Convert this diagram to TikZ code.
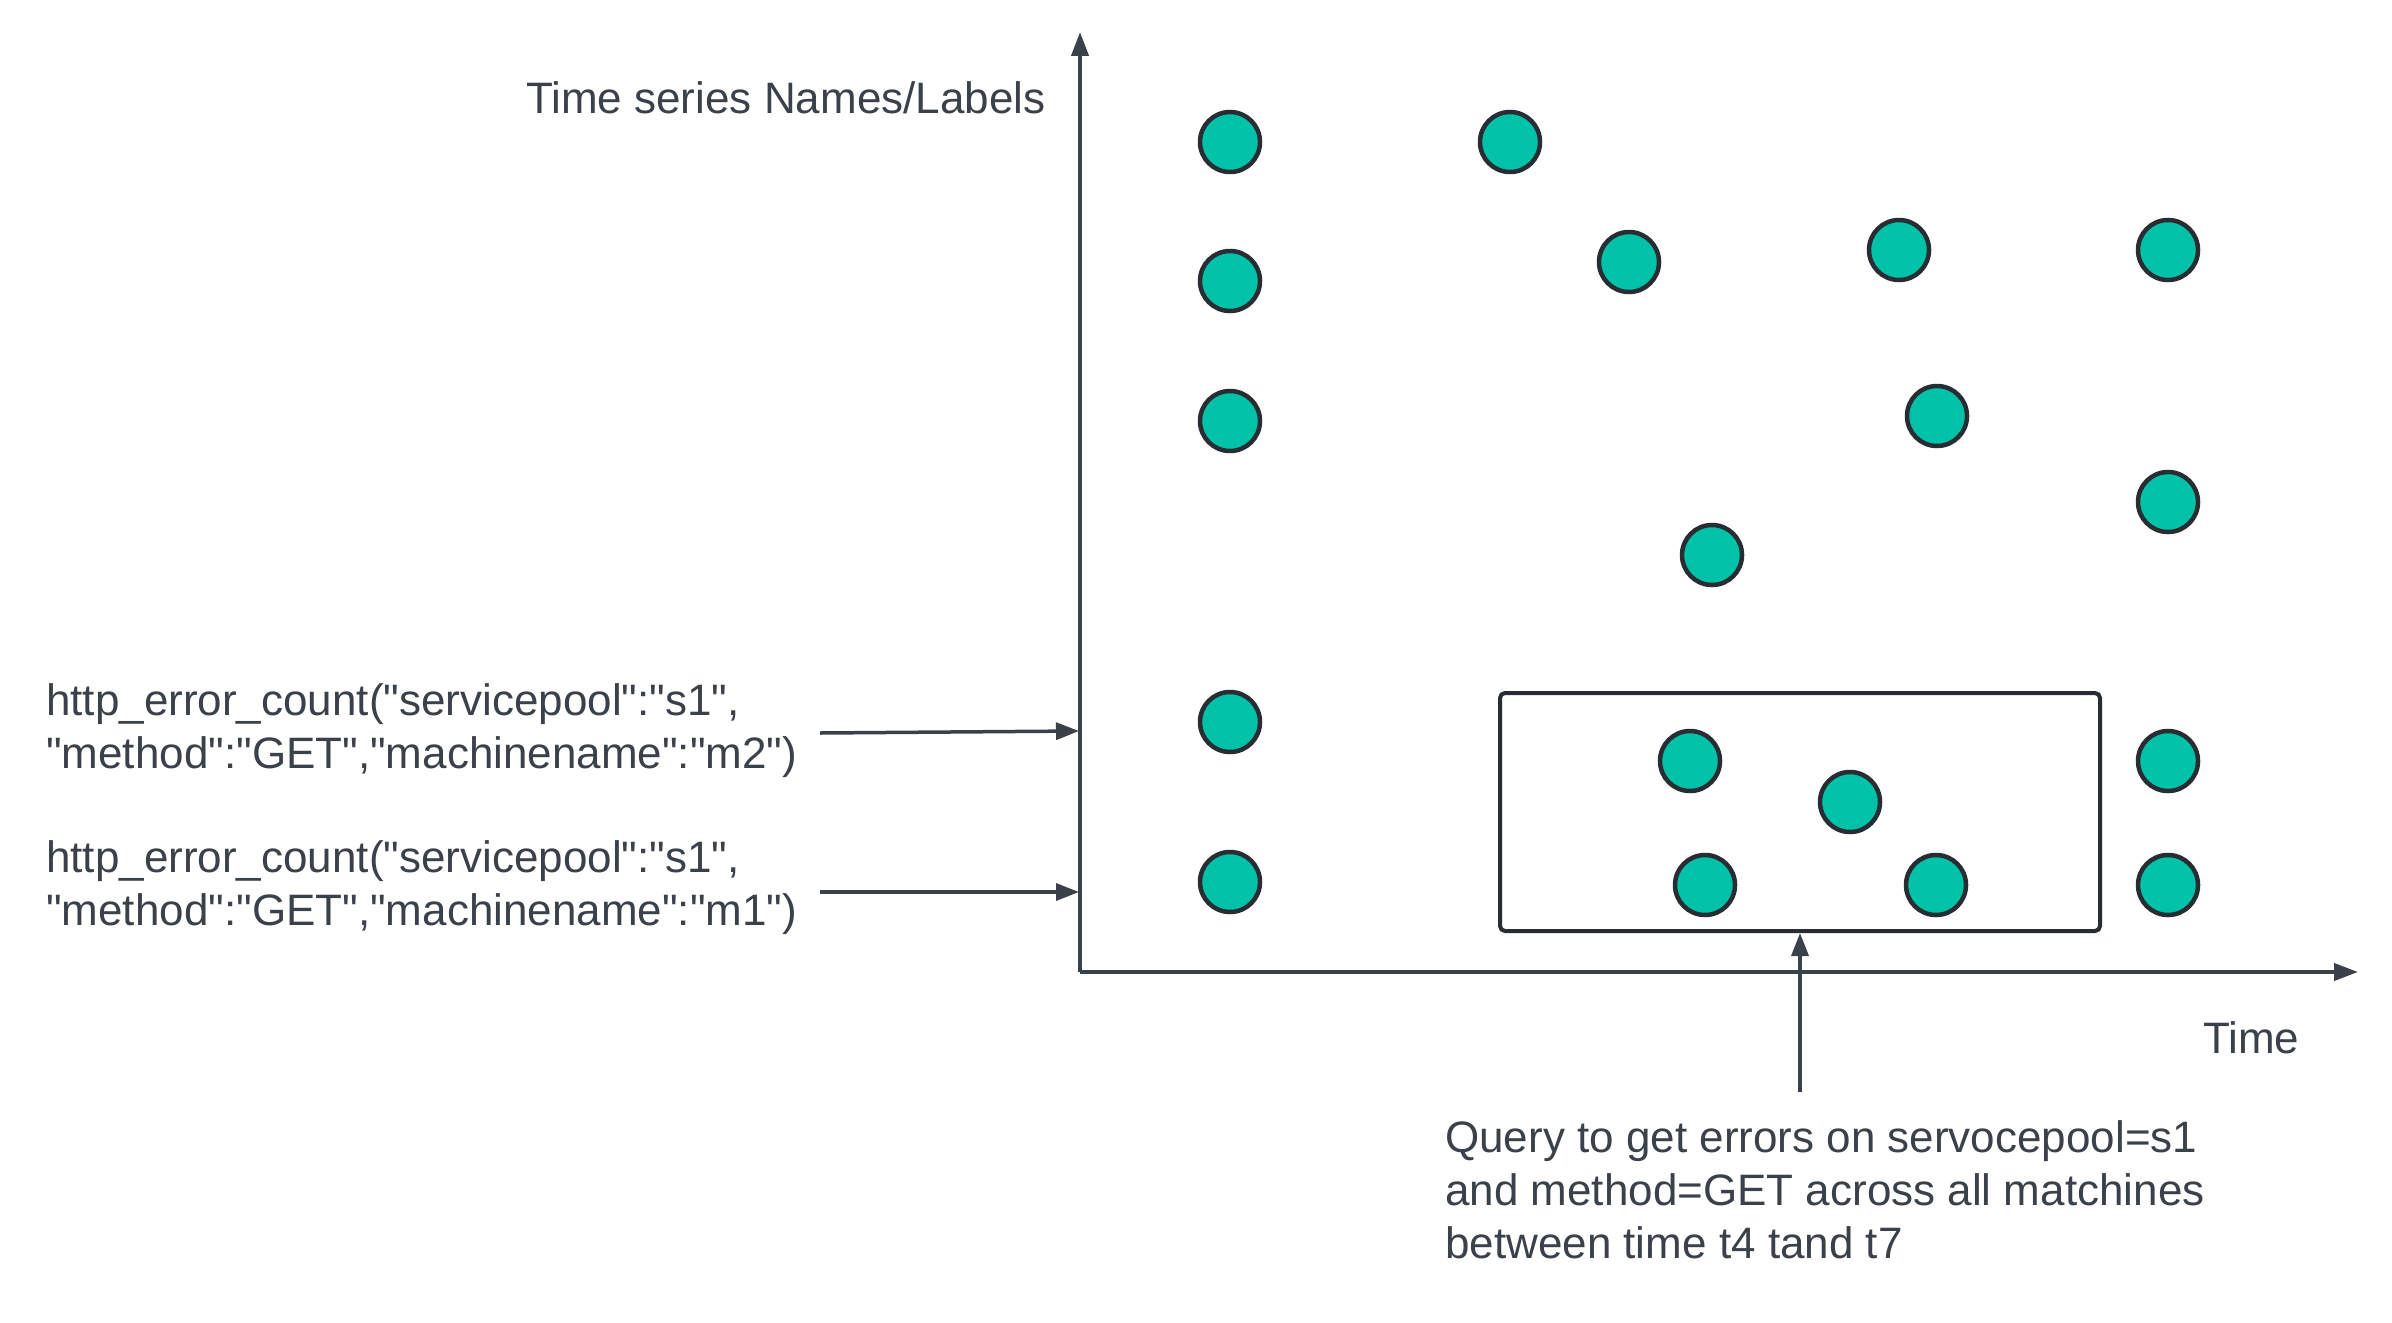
\documentclass[tikz,border=0pt]{standalone}
\usepackage{fontspec}
\setmainfont{Liberation Sans}[Ligatures=TeXOff]
\usetikzlibrary{arrows.meta}
\definecolor{txt}{HTML}{3A414A}
\definecolor{axc}{HTML}{3A414A}
\definecolor{dotfill}{HTML}{00C2A8}
\definecolor{dotline}{HTML}{282C33}
\tikzset{
  dot/.style={circle, draw=dotline, fill=dotfill, line width=4.5pt, minimum size=60pt, inner sep=0pt},
  axis/.style={draw=axc, line width=4pt, -{Triangle[length=24pt,width=17pt]}},
  arr/.style={draw=axc, line width=3.5pt, -{Triangle[length=23pt,width=17pt]}},
  lbl/.style={text=txt, inner sep=0pt, align=left, anchor=base west, font=\fontsize{44}{53}\selectfont},
  qbox/.style={draw=dotline, line width=4pt, rounded corners=5pt, minimum width=600pt, minimum height=238pt, inner sep=0pt}
}
\begin{document}
\begin{tikzpicture}[x=1pt,y=-1pt]
\useasboundingbox[fill=white] (0,0) rectangle (2392,1322);
% axes
\coordinate (origin) at (1080,972);
\coordinate (ytip) at (1080,32);
\coordinate (xtip) at (2358,972);
\draw[axis] (origin) -- (ytip);
\draw[axis] (origin) -- (xtip);
% labels (multi-line nodes: base = baseline of last line)
\node[lbl] (ylab) at (526,113) {Time series Names/Labels};
\node[lbl] (xlab) at (2203,1053) {Time};
\node[lbl] (m2) at (46,768) {http\_error\_count("servicepool":"s1",\\"method":"GET","machinename":"m2")};
\node[lbl] (m1) at (46,925) {http\_error\_count("servicepool":"s1",\\"method":"GET","machinename":"m1")};
\node[lbl] (query) at (1445,1258) {Query to get errors on servocepool=s1\\and method=GET across all matchines\\between time t4 tand t7};
% dots
\node[dot] (c1) at (1230,142) {};
\node[dot] (c2) at (1230,281) {};
\node[dot] (c3) at (1230,421) {};
\node[dot] (c4) at (1230,722) {};
\node[dot] (c5) at (1230,882) {};
\node[dot] (c6) at (1510,142) {};
\node[dot] (c7) at (1629,262) {};
\node[dot] (c8) at (1899,250) {};
\node[dot] (c9) at (2168,250) {};
\node[dot] (c10) at (1937,416) {};
\node[dot] (c11) at (2168,502) {};
\node[dot] (c12) at (1712,555) {};
\node[dot] (c13) at (1690,761) {};
\node[dot] (c14) at (1850,802) {};
\node[dot] (c15) at (1705,885) {};
\node[dot] (c16) at (1936,885) {};
\node[dot] (c17) at (2168,761) {};
\node[dot] (c18) at (2168,885) {};
% query box
\node[qbox] (box) at (1800,812) {};
% connectors
\coordinate (m2s) at (820,733);
\coordinate (m2e) at (1079,731);
\coordinate (m1s) at (820,892);
\coordinate (m1e) at (1079,892);
\draw[arr] (m2s) -- (m2e);
\draw[arr] (m1s) -- (m1e);
\coordinate (qs) at (1800,1092);
\draw[arr] (qs) -- (box.south);
\end{tikzpicture}
\end{document}
